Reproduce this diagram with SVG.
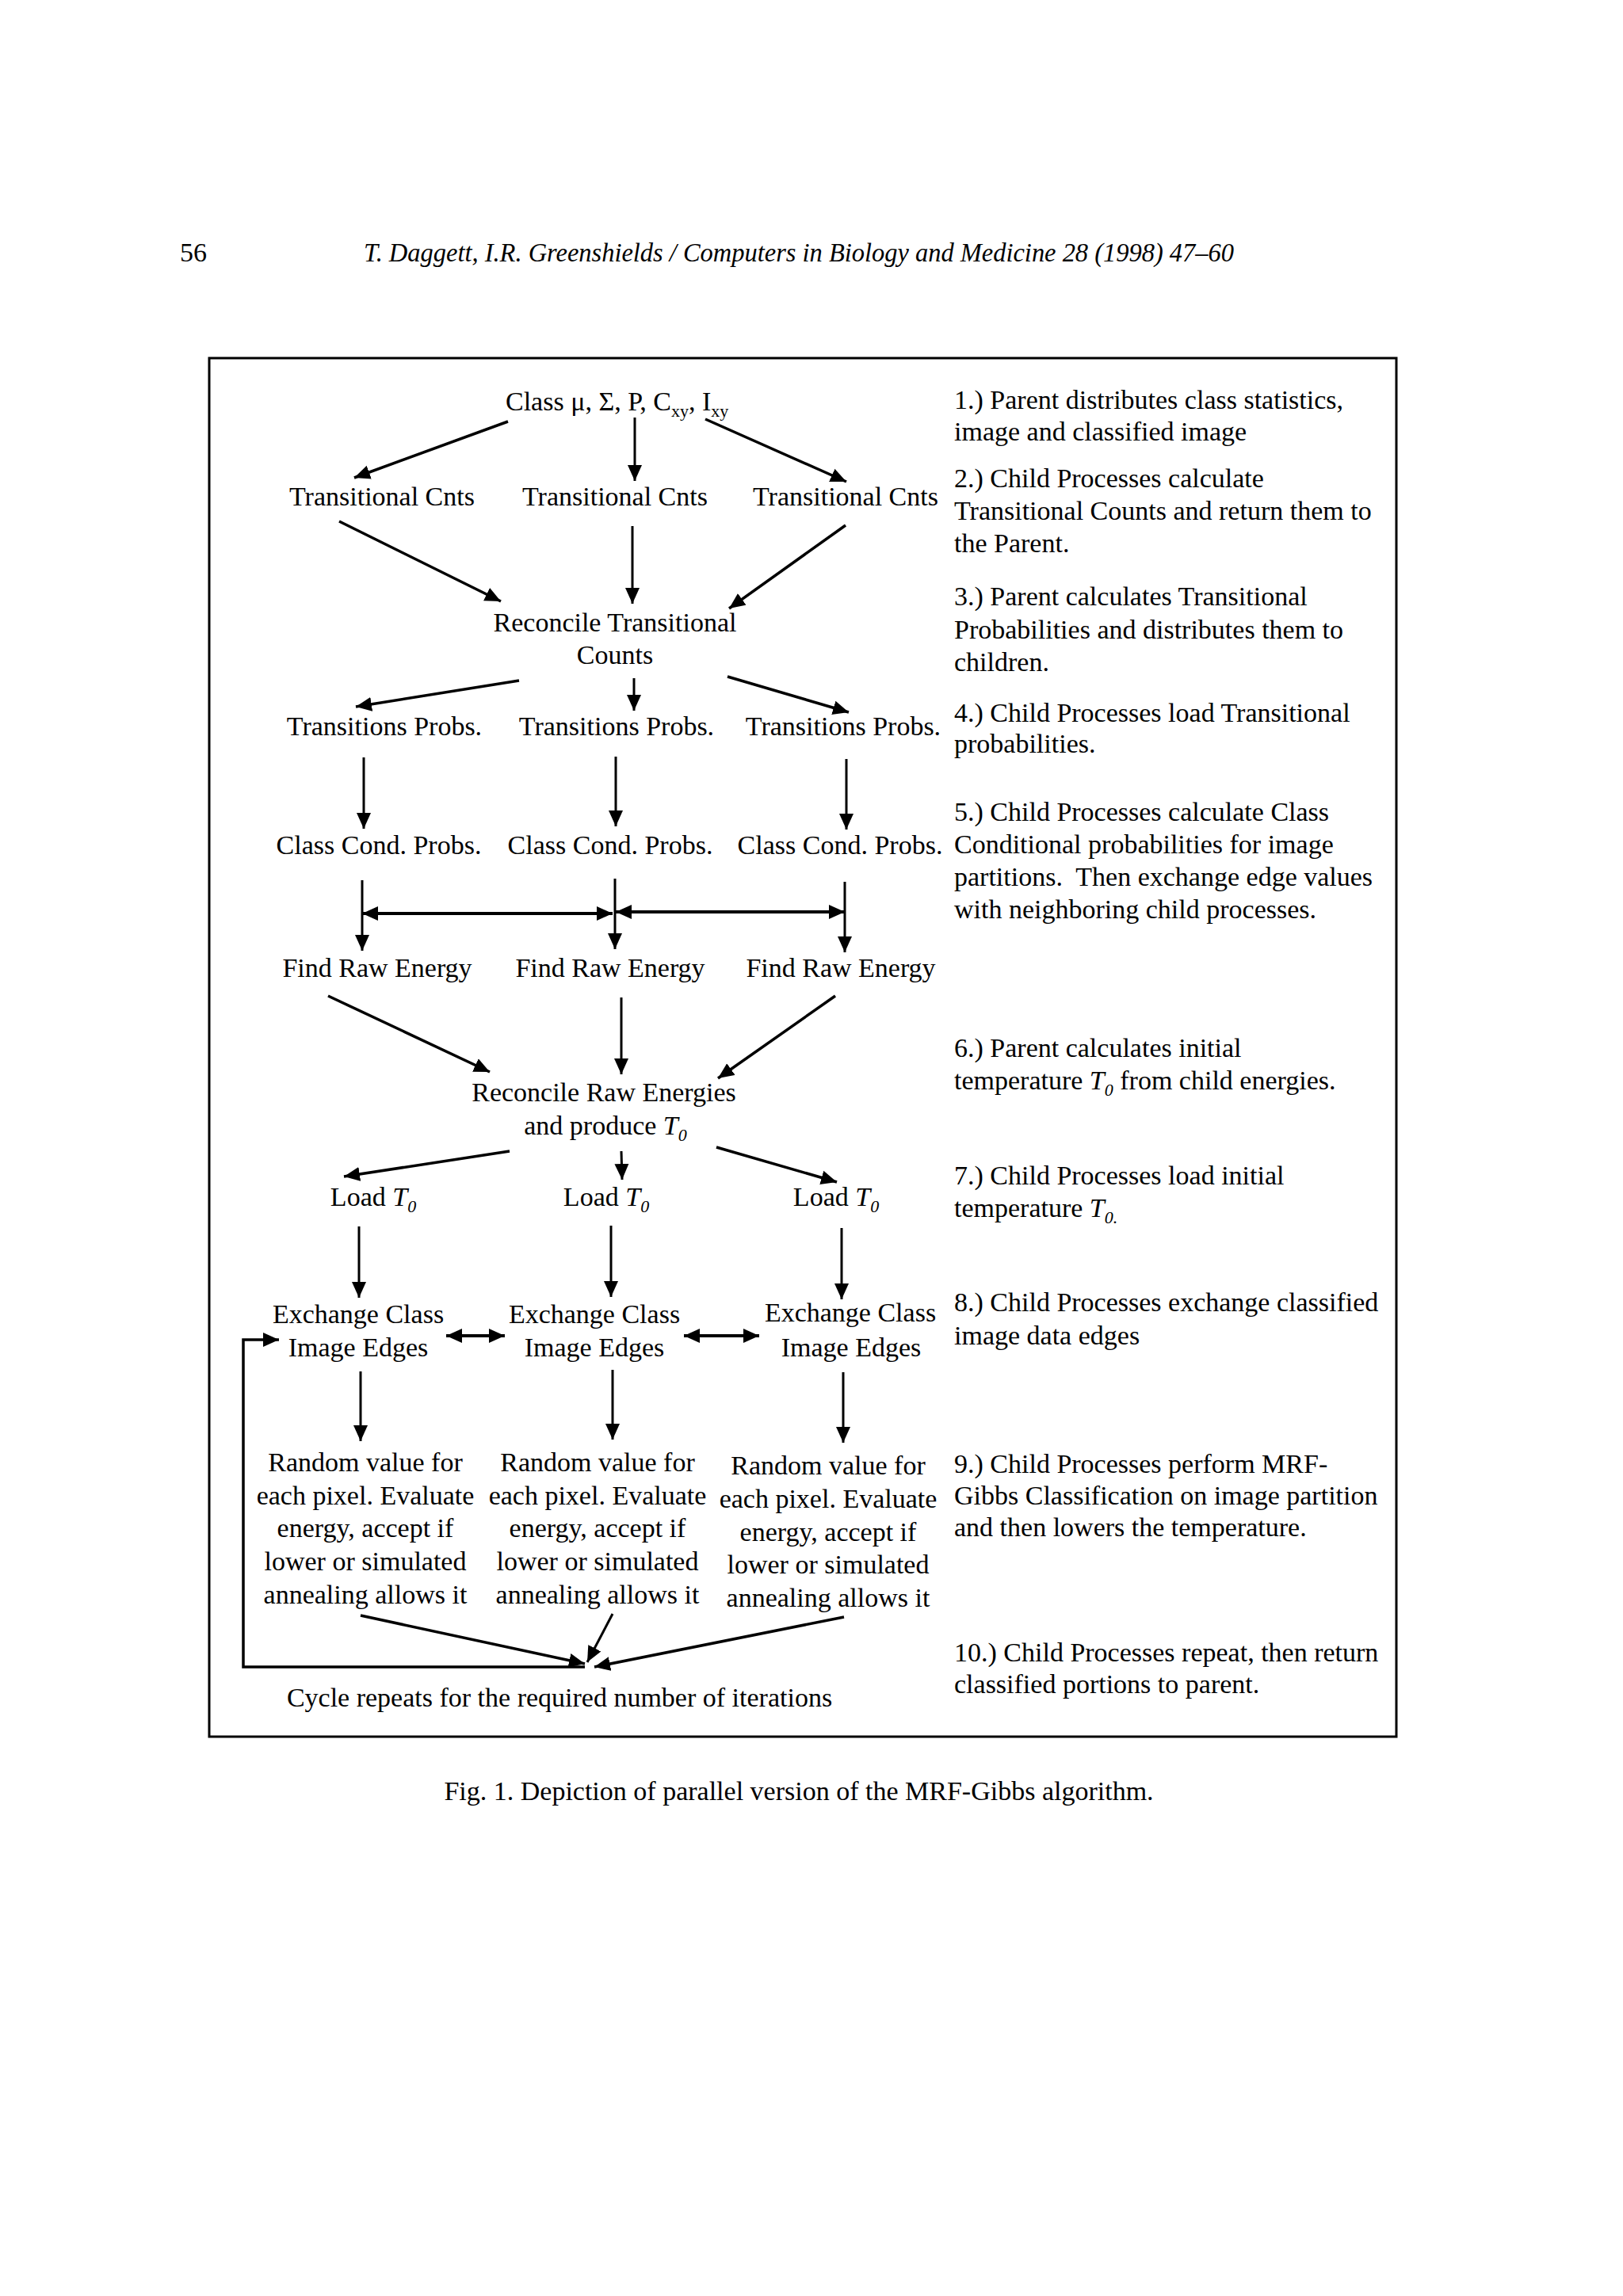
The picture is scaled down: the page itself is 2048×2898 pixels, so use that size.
<svg xmlns="http://www.w3.org/2000/svg" width="2048" height="2898" viewBox="0 0 2048 2898">
<style>
text{font-family:"Liberation Serif","Times New Roman",serif;font-size:34px;fill:#000}
.n{text-anchor:middle}
.it{font-style:italic}
.sub{font-size:22px;font-style:italic}
.c line,.c polyline{stroke:#000;stroke-width:3;fill:none}
.c .d{stroke-width:3.5}
.c .h{stroke-width:4}
</style>
<defs>
<marker id="ah" markerUnits="userSpaceOnUse" markerWidth="21" markerHeight="19" refX="20" refY="9" orient="auto-start-reverse" viewBox="0 0 21 18">
<path d="M0,0 L20,9 L0,18 z" fill="#000"/>
</marker>
</defs>
<rect width="2048" height="2898" fill="#fff"/>
<g id="header">
<text x="227" y="330">56</text>
<text x="459" y="330" class="it" textLength="1098" lengthAdjust="spacingAndGlyphs">T. Daggett, I.R. Greenshields / Computers in Biology and Medicine 28 (1998) 47–60</text>
</g>
<rect id="frame" x="264" y="452" width="1498" height="1740" fill="none" stroke="#000" stroke-width="3"/>
<g id="n-class"><text x="638" y="518">Class μ, Σ, P, C<tspan font-size="22" dy="8">xy</tspan><tspan dy="-8">, I</tspan><tspan font-size="22" dy="8">xy</tspan></text></g>
<g id="n-tc1"><text class="n" x="482" y="638">Transitional Cnts</text></g>
<g id="n-tc2"><text class="n" x="776" y="638">Transitional Cnts</text></g>
<g id="n-tc3"><text class="n" x="1067" y="638">Transitional Cnts</text></g>
<g id="n-rtc"><text class="n" x="776" y="797">Reconcile Transitional</text><text class="n" x="776" y="838">Counts</text></g>
<g id="n-tp1"><text class="n" x="485" y="928">Transitions Probs.</text></g>
<g id="n-tp2"><text class="n" x="778" y="928">Transitions Probs.</text></g>
<g id="n-tp3"><text class="n" x="1064" y="928">Transitions Probs.</text></g>
<g id="n-cc1"><text class="n" x="478" y="1078">Class Cond. Probs.</text></g>
<g id="n-cc2"><text class="n" x="770" y="1078">Class Cond. Probs.</text></g>
<g id="n-cc3"><text class="n" x="1060" y="1078">Class Cond. Probs.</text></g>
<g id="n-fr1"><text class="n" x="476" y="1233">Find Raw Energy</text></g>
<g id="n-fr2"><text class="n" x="770" y="1233">Find Raw Energy</text></g>
<g id="n-fr3"><text class="n" x="1061" y="1233">Find Raw Energy</text></g>
<g id="n-rre"><text class="n" x="762" y="1390">Reconcile Raw Energies</text><text class="n" x="764" y="1432">and produce <tspan class="it">T</tspan><tspan class="sub" dy="8">0</tspan></text></g>
<g id="n-lt1"><text class="n" x="471" y="1522">Load <tspan class="it">T</tspan><tspan class="sub" dy="8">0</tspan></text></g>
<g id="n-lt2"><text class="n" x="765" y="1522">Load <tspan class="it">T</tspan><tspan class="sub" dy="8">0</tspan></text></g>
<g id="n-lt3"><text class="n" x="1055" y="1522">Load <tspan class="it">T</tspan><tspan class="sub" dy="8">0</tspan></text></g>
<g id="n-ex1"><text class="n" x="452" y="1670">Exchange Class</text><text class="n" x="452" y="1712">Image Edges</text></g>
<g id="n-ex2"><text class="n" x="750" y="1670">Exchange Class</text><text class="n" x="750" y="1712">Image Edges</text></g>
<g id="n-ex3"><text class="n" x="1073" y="1668">Exchange Class</text><text class="n" x="1074" y="1712">Image Edges</text></g>
<g id="n-rv1"><text class="n" x="461" y="1857">Random value for</text><text class="n" x="461" y="1899">each pixel. Evaluate</text><text class="n" x="461" y="1940">energy, accept if</text><text class="n" x="461" y="1982">lower or simulated</text><text class="n" x="461" y="2024">annealing allows it</text></g>
<g id="n-rv2"><text class="n" x="754" y="1857">Random value for</text><text class="n" x="754" y="1899">each pixel. Evaluate</text><text class="n" x="754" y="1940">energy, accept if</text><text class="n" x="754" y="1982">lower or simulated</text><text class="n" x="754" y="2024">annealing allows it</text></g>
<g id="n-rv3"><text class="n" x="1045" y="1861">Random value for</text><text class="n" x="1045" y="1903">each pixel. Evaluate</text><text class="n" x="1045" y="1945">energy, accept if</text><text class="n" x="1045" y="1986">lower or simulated</text><text class="n" x="1045" y="2028">annealing allows it</text></g>
<g id="n-cycle"><text class="n" x="706" y="2154">Cycle repeats for the required number of iterations</text></g>
<g id="notes">
<text x="1204" y="516">1.) Parent distributes class statistics,</text>
<text x="1204" y="556">image and classified image</text>
<text x="1204" y="615">2.) Child Processes calculate</text>
<text x="1204" y="656">Transitional Counts and return them to</text>
<text x="1204" y="697">the Parent.</text>
<text x="1204" y="764">3.) Parent calculates Transitional</text>
<text x="1204" y="806">Probabilities and distributes them to</text>
<text x="1204" y="847">children.</text>
<text x="1204" y="911">4.) Child Processes load Transitional</text>
<text x="1204" y="950">probabilities.</text>
<text x="1204" y="1036">5.) Child Processes calculate Class</text>
<text x="1204" y="1077">Conditional probabilities for image</text>
<text x="1204" y="1118">partitions.&#160; Then exchange edge values</text>
<text x="1204" y="1159">with neighboring child processes.</text>
<text x="1204" y="1334">6.) Parent calculates initial</text>
<text x="1204" y="1375">temperature <tspan class="it">T</tspan><tspan class="sub" dy="8">0</tspan><tspan dy="-8"> from child energies.</tspan></text>
<text x="1204" y="1495">7.) Child Processes load initial</text>
<text x="1204" y="1536">temperature <tspan class="it">T</tspan><tspan class="sub" dy="8">0.</tspan></text>
<text x="1204" y="1655">8.) Child Processes exchange classified</text>
<text x="1204" y="1697">image data edges</text>
<text x="1204" y="1859">9.) Child Processes perform MRF-</text>
<text x="1204" y="1899">Gibbs Classification on image partition</text>
<text x="1204" y="1939">and then lowers the temperature.</text>
<text x="1204" y="2097">10.) Child Processes repeat, then return</text>
<text x="1204" y="2137">classified portions to parent.</text>
</g>
<g id="connectors" class="c">
<line class="d" x1="641" y1="532" x2="447" y2="603" marker-end="url(#ah)"/>
<line x1="801" y1="527" x2="801" y2="607" marker-end="url(#ah)"/>
<line class="d" x1="890" y1="529" x2="1068" y2="608" marker-end="url(#ah)"/>
<line class="d" x1="428" y1="658" x2="632" y2="759" marker-end="url(#ah)"/>
<line x1="798" y1="664" x2="798" y2="762" marker-end="url(#ah)"/>
<line class="d" x1="1067" y1="663" x2="920" y2="768" marker-end="url(#ah)"/>
<line class="d" x1="655" y1="859" x2="449" y2="892" marker-end="url(#ah)"/>
<line x1="800" y1="856" x2="800" y2="897" marker-end="url(#ah)"/>
<line class="d" x1="918" y1="854" x2="1071" y2="899" marker-end="url(#ah)"/>
<line x1="459" y1="956" x2="459" y2="1046" marker-end="url(#ah)"/>
<line x1="777" y1="955" x2="777" y2="1043" marker-end="url(#ah)"/>
<line x1="1068" y1="958" x2="1068" y2="1047" marker-end="url(#ah)"/>
<line x1="457" y1="1111" x2="457" y2="1200" marker-end="url(#ah)"/>
<line x1="776" y1="1109" x2="776" y2="1198" marker-end="url(#ah)"/>
<line x1="1066" y1="1113" x2="1066" y2="1202" marker-end="url(#ah)"/>
<line class="h" x1="457" y1="1153" x2="773" y2="1153" marker-start="url(#ah)" marker-end="url(#ah)"/>
<line class="h" x1="777" y1="1151" x2="1066" y2="1151" marker-start="url(#ah)" marker-end="url(#ah)"/>
<line class="d" x1="414" y1="1257" x2="618" y2="1353" marker-end="url(#ah)"/>
<line x1="784" y1="1259" x2="784" y2="1356" marker-end="url(#ah)"/>
<line class="d" x1="1054" y1="1257" x2="906" y2="1361" marker-end="url(#ah)"/>
<line class="d" x1="643" y1="1453" x2="434" y2="1485" marker-end="url(#ah)"/>
<line x1="784" y1="1453" x2="785" y2="1489" marker-end="url(#ah)"/>
<line class="d" x1="904" y1="1448" x2="1056" y2="1492" marker-end="url(#ah)"/>
<line x1="453" y1="1548" x2="453" y2="1638" marker-end="url(#ah)"/>
<line x1="771" y1="1547" x2="771" y2="1637" marker-end="url(#ah)"/>
<line x1="1062" y1="1550" x2="1062" y2="1640" marker-end="url(#ah)"/>
<line class="h" x1="563" y1="1686" x2="637" y2="1686" marker-start="url(#ah)" marker-end="url(#ah)"/>
<line class="h" x1="863" y1="1686" x2="958" y2="1686" marker-start="url(#ah)" marker-end="url(#ah)"/>
<line x1="455" y1="1731" x2="455" y2="1819" marker-end="url(#ah)"/>
<line x1="773" y1="1729" x2="773" y2="1817" marker-end="url(#ah)"/>
<line x1="1064" y1="1732" x2="1064" y2="1821" marker-end="url(#ah)"/>
<line class="d" x1="455" y1="2039" x2="738" y2="2100" marker-end="url(#ah)"/>
<line x1="773" y1="2037" x2="741" y2="2098" marker-end="url(#ah)"/>
<line class="d" x1="1065" y1="2041" x2="750" y2="2104" marker-end="url(#ah)"/>
<polyline class="d" points="738,2104 307,2104 307,1691 352,1691" marker-end="url(#ah)"/>
</g>
<g id="caption"><text class="n" x="1008" y="2272">Fig. 1. Depiction of parallel version of the MRF-Gibbs algorithm.</text></g>
</svg>
